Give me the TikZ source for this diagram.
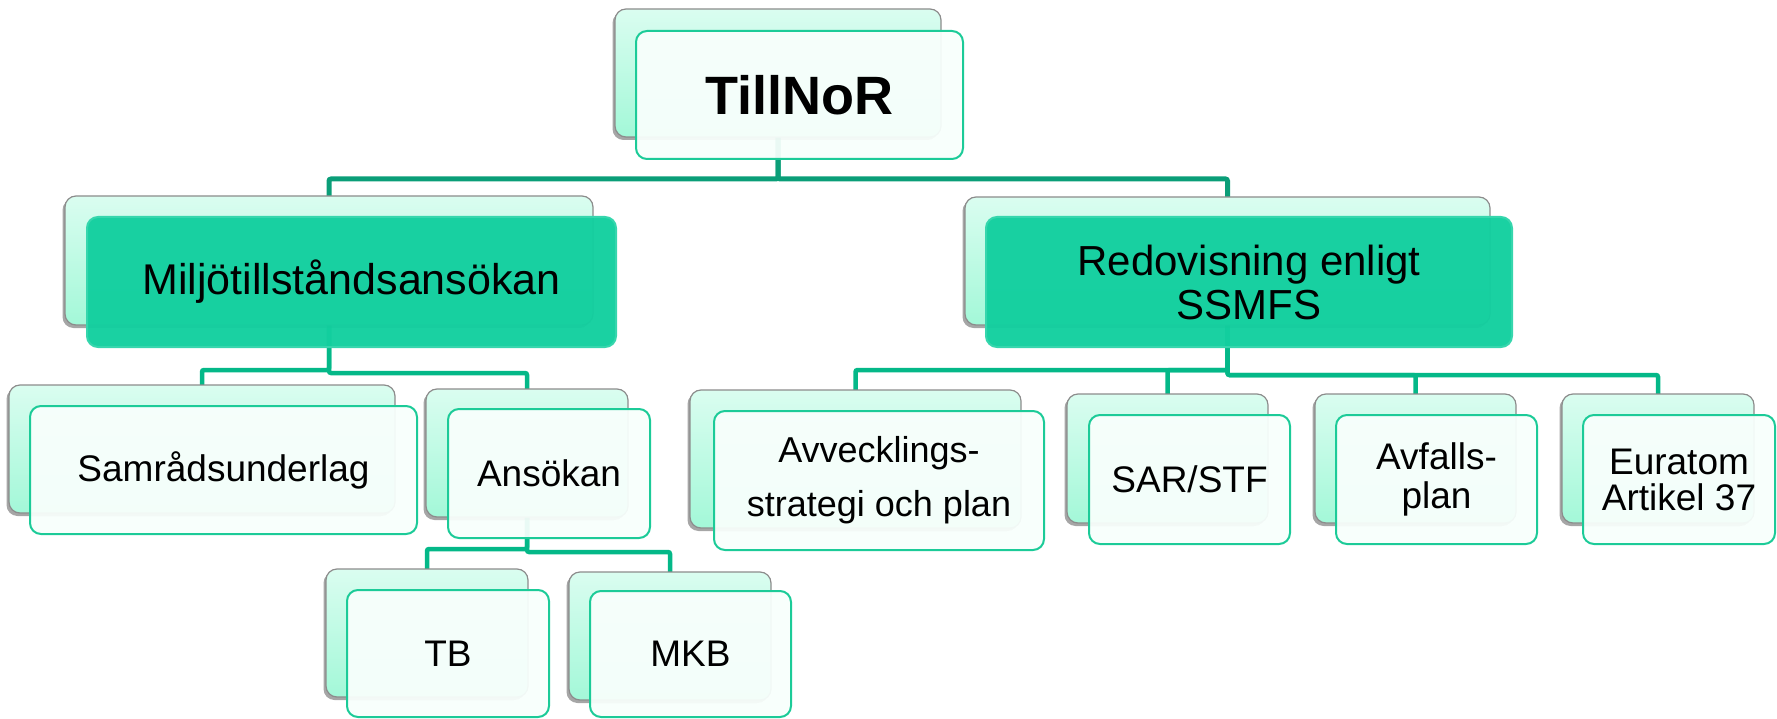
\documentclass[tikz,border=0pt]{standalone}
\usepackage{fontspec}
\setmainfont{Liberation Sans}
\usetikzlibrary{shadows}
\definecolor{conTop}{HTML}{0A9E78}
\definecolor{conLow}{HTML}{04B888}
\definecolor{mintTop}{HTML}{DAFDF0}
\definecolor{mintBot}{HTML}{A3F8D8}
\definecolor{frontFill}{HTML}{F8FFFC}
\definecolor{frontLine}{HTML}{1CCB98}
\definecolor{headFill}{HTML}{13CF9F}
\definecolor{backLine}{HTML}{8C8C8C}
\pgfdeclarelayer{bg}
\pgfsetlayers{bg,main}
\tikzset{
  backbox/.style={rectangle, rounded corners=11pt, draw=backLine, line width=1.2pt,
    top color=mintTop, bottom color=mintBot,
    drop shadow={shadow xshift=-2.5pt, shadow yshift=-3pt, opacity=0.35, fill=black},
    inner sep=0pt, outer sep=0pt},
  frontbox/.style={rectangle, rounded corners=11pt, draw=frontLine, line width=2pt,
    fill=frontFill, fill opacity=0.94, text opacity=1, inner sep=0pt, outer sep=0pt,
    align=center, font=\fontsize{37}{44}\selectfont},
  headbox/.style={frontbox, fill=headFill, draw=headFill!85!white, fill opacity=0.97,
    font=\fontsize{42}{44}\selectfont},
  conA/.style={draw=conTop, line width=5pt, rounded corners=2pt},
  conB/.style={draw=conLow, line width=4.5pt, rounded corners=2pt}
}
\begin{document}
\begin{tikzpicture}[x=1pt, y=-1pt]
\useasboundingbox (0,0) rectangle (1777,719);

% back boxes
\node[backbox, minimum width=326pt, minimum height=128pt] (tillB) at (778,73) {};
\node[backbox, minimum width=528pt, minimum height=129pt] (miljB) at (329,260.5) {};
\node[backbox, minimum width=525pt, minimum height=128pt] (redB) at (1227.5,261) {};
\node[backbox, minimum width=386pt, minimum height=128pt] (samB) at (202,449) {};
\node[backbox, minimum width=202pt, minimum height=128pt] (ansB) at (527,453) {};
\node[backbox, minimum width=202pt, minimum height=128pt] (tbB) at (427,633) {};
\node[backbox, minimum width=202pt, minimum height=128pt] (mkbB) at (670,636) {};
\node[backbox, minimum width=331pt, minimum height=138pt] (avB) at (855.5,459) {};
\node[backbox, minimum width=201pt, minimum height=129pt] (sarB) at (1167.5,458.5) {};
\node[backbox, minimum width=201pt, minimum height=129pt] (afB) at (1415.5,458.5) {};
\node[backbox, minimum width=192pt, minimum height=129pt] (euB) at (1658,458.5) {};

% front boxes
\node[frontbox, minimum width=327pt, minimum height=128pt, font=\fontsize{54}{60}\selectfont\bfseries] (till) at (799.5,95) {TillNoR};
\node[headbox, minimum width=529pt, minimum height=130pt, font=\fontsize{43}{46}\selectfont] (milj) at (351.5,282) {Miljötillståndsansökan};
\node[headbox, minimum width=526pt, minimum height=130pt] (red) at (1249,282) {Redovisning enligt\\SSMFS};
\node[frontbox, minimum width=387pt, minimum height=128pt] (sam) at (223.5,470) {Samrådsunderlag};
\node[frontbox, minimum width=202pt, minimum height=129pt] (ans) at (549,473.5) {Ansökan};
\node[frontbox, minimum width=202pt, minimum height=127pt] (tb) at (448,653.5) {TB};
\node[frontbox, minimum width=201pt, minimum height=126pt] (mkb) at (690.5,654) {MKB};
\node[frontbox, minimum width=330pt, minimum height=139pt, font=\fontsize{36}{54}\selectfont] (av) at (879,480.5) {Avvecklings-\\strategi och plan};
\node[frontbox, minimum width=201pt, minimum height=129pt] (sar) at (1189.5,479.5) {SAR/STF};
\node[frontbox, minimum width=201pt, minimum height=129pt, font=\fontsize{37}{39}\selectfont] (af) at (1436.5,479.5) {Avfalls-\\plan};
\node[frontbox, minimum width=192pt, minimum height=129pt, font=\fontsize{37}{36}\selectfont] (eu) at (1679,479.5) {Euratom\\Artikel 37};

% connectors
\begin{pgfonlayer}{bg}
\draw[conA] (tillB.south) -- (tillB.south |- 0,179) -| (miljB.north);
\draw[conA] (tillB.south) -- (tillB.south |- 0,179) -| (redB.north);
\draw[conB] (miljB.south) -- (miljB.south |- 0,370) -| (samB.north);
\draw[conB] (miljB.south) -- (miljB.south |- 0,373) -| (ansB.north);
\draw[conB] (ansB.south) -- (ansB.south |- 0,549) -| (tbB.north);
\draw[conB] (ansB.south) -- (ansB.south |- 0,552) -| (mkbB.north);
\draw[conB] (redB.south) -- (redB.south |- 0,370) -| (avB.north);
\draw[conB] (redB.south) -- (redB.south |- 0,370) -| (sarB.north);
\draw[conB] (redB.south) -- (redB.south |- 0,375) -| (afB.north);
\draw[conB] (redB.south) -- (redB.south |- 0,375) -| (euB.north);
\end{pgfonlayer}
\end{tikzpicture}
\end{document}
